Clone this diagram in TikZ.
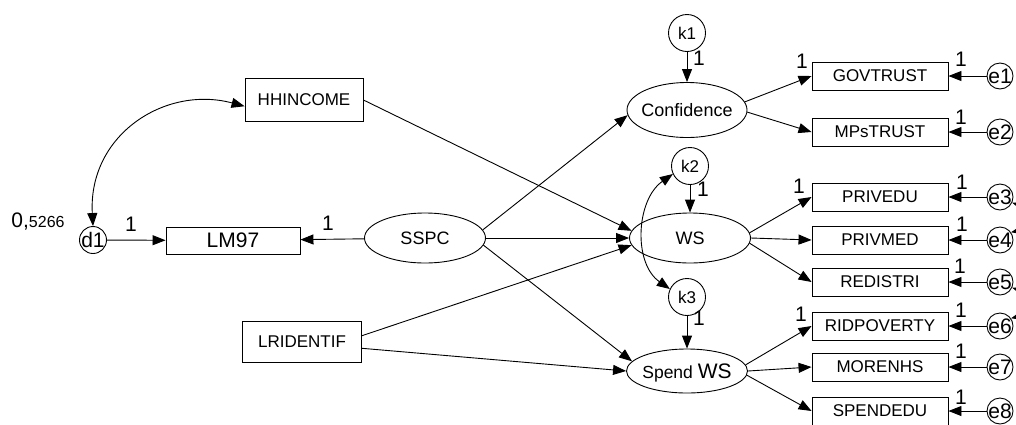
\documentclass[tikz,border=0pt]{standalone}
\usepackage{fontspec}
\setmainfont{Liberation Sans}
\usetikzlibrary{arrows.meta,shapes.geometric}
\newcommand\ctr[1]{\smash{\makebox[0pt]{\raisebox{-0.5\height}{#1}}}}
\begin{document}
\begin{tikzpicture}[x=1pt,y=-1pt, line width=0.9pt,
 every node/.style={font=\fontsize{17pt}{20pt}\selectfont},
 obs/.style={draw, rectangle, inner sep=0pt, minimum height=28pt, minimum width=136pt},
 lat/.style={draw, ellipse, inner sep=0pt, minimum width=121pt, minimum height=50pt, font=\fontsize{18pt}{21pt}\selectfont},
 err/.style={draw, circle, inner sep=0pt, minimum size=26pt, font=\fontsize{21pt}{24pt}\selectfont},
 res/.style={draw, circle, inner sep=0pt, minimum size=37pt},
 one/.style={font=\fontsize{21pt}{24pt}\selectfont, inner sep=0pt},
 arr/.style={-{Triangle[length=13pt,width=10pt]}},
 dbl/.style={{Triangle[length=13pt,width=10pt]}-{Triangle[length=13pt,width=10pt]}}
]
\clip (0,0) rectangle (1016,424);
% exogenous observed
\node[obs, minimum width=118pt, minimum height=43pt] (hh) at (304,100) {HHINCOME};
\node[obs, minimum width=134pt, minimum height=27pt, font=\fontsize{21pt}{24pt}\selectfont] (lm) at (233,240.5) {LM97};
\node[obs, minimum width=119pt, minimum height=41pt] (lri) at (302,342) {LRIDENTIF};
\node[err, minimum size=27pt] (d1) at (93,240) {\ctr{d1}};
% latents
\node[lat] (sspc) at (425,238) {\ctr{SSPC}};
\node[lat, minimum width=120pt, minimum height=55pt] (conf) at (687,110) {\ctr{Confidence}};
\node[lat] (ws) at (690,238) {\ctr{WS}};
\node[lat, minimum height=44pt, font=\fontsize{17.5pt}{21pt}\selectfont] (spend) at (687,371) {\ctr{Spend {\fontsize{21pt}{24pt}\selectfont WS}}};
% residuals
\node[res] (k1) at (687,33) {\ctr{k1}};
\node[res] (k2) at (690,166) {\ctr{k2}};
\node[res] (k3) at (687,297) {\ctr{k3}};
% indicators
\node[obs] (gov) at (880,76) {GOVTRUST};
\node[obs] (mps) at (880,132) {MPsTRUST};
\node[obs] (pedu) at (880,197) {PRIVEDU};
\node[obs] (pmed) at (880,240) {PRIVMED};
\node[obs] (redi) at (880,282) {REDISTRI};
\node[obs] (ridp) at (880,326) {RIDPOVERTY};
\node[obs] (more) at (880,367) {MORENHS};
\node[obs] (sedu) at (880,411) {SPENDEDU};
% errors
\node[err] (e1) at (1000,76) {\ctr{e1}};
\node[err] (e2) at (1000,132) {\ctr{e2}};
\node[err] (e3) at (1000,197) {\ctr{e3}};
\node[err] (e4) at (1000,240) {\ctr{e4}};
\node[err] (e5) at (1000,282) {\ctr{e5}};
\node[err] (e6) at (1000,326) {\ctr{e6}};
\node[err] (e7) at (1000,367) {\ctr{e7}};
\node[err] (e8) at (1000,411) {\ctr{e8}};
% variance label
\node[anchor=base west, inner sep=0pt, font=\fontsize{21pt}{24pt}\selectfont] (var) at (11,227) {0,{\fontsize{16pt}{18pt}\selectfont 5266}};
% paths
\draw[arr] (d1) -- (lm);
\draw[arr] (sspc) -- (lm);
\draw[arr] (sspc.8) -- (conf.185);
\draw[arr] (sspc) -- (ws);
\draw[arr] (sspc.-7) -- (spend.170);
\draw[arr] (hh.east) -- (ws.173);
\draw[arr] (lri.6.6) -- (ws.187);
\draw[arr] (lri.-6.6) -- (spend.180);
\draw[arr] (k1) -- (conf);
\draw[arr] (k2) -- (ws);
\draw[arr] (k3) -- (spend);
\draw[arr] (conf.8) -- (gov.west);
\draw[arr] (conf.-2) -- (mps.west);
\draw[arr] (ws.5) -- (pedu.west);
\draw[arr] (ws.east) -- (pmed.west);
\draw[arr] (ws.-5) -- (redi.west);
\draw[arr] (spend.6.5) -- (ridp.west);
\draw[arr] (spend.east) -- (more.west);
\draw[arr] (spend.-4) -- (sedu.west);
\foreach \e/\b in {e1/gov,e2/mps,e3/pedu,e4/pmed,e5/redi,e6/ridp,e7/more,e8/sedu}
  \draw[arr] (\e) -- (\b);
% covariances
\draw[dbl] (d1.north) .. controls (88,135) and (165,85) .. (hh.186);
\draw[dbl] (k2.205) to[out=215,in=145] (k3.155);
\draw[dbl] (e3.-25) .. controls (1040,212) and (1040,226) .. (e4.35);
\draw[dbl] (e5.-25) .. controls (1040,297) and (1040,311) .. (e6.35);
% loadings
\node[one] (l1) at (131,224) {1};
\node[one] (l2) at (328,223) {1};
\node[one] (l3) at (699,58) {1};
\node[one] (l4) at (703,189) {1};
\node[one] (l5) at (699,318) {1};
\node[one] (l6) at (802,61) {1};
\node[one] (l7) at (799,186) {1};
\node[one] (l8) at (801,314) {1};
\node[one] (r1) at (961,59) {1};
\node[one] (r2) at (961,117) {1};
\node[one] (r3) at (962,182) {1};
\node[one] (r4) at (962,224.5) {1};
\node[one] (r5) at (960,266) {1};
\node[one] (r6) at (961,310) {1};
\node[one] (r7) at (961,351) {1};
\node[one] (r8) at (961,397) {1};
\end{tikzpicture}
\end{document}
